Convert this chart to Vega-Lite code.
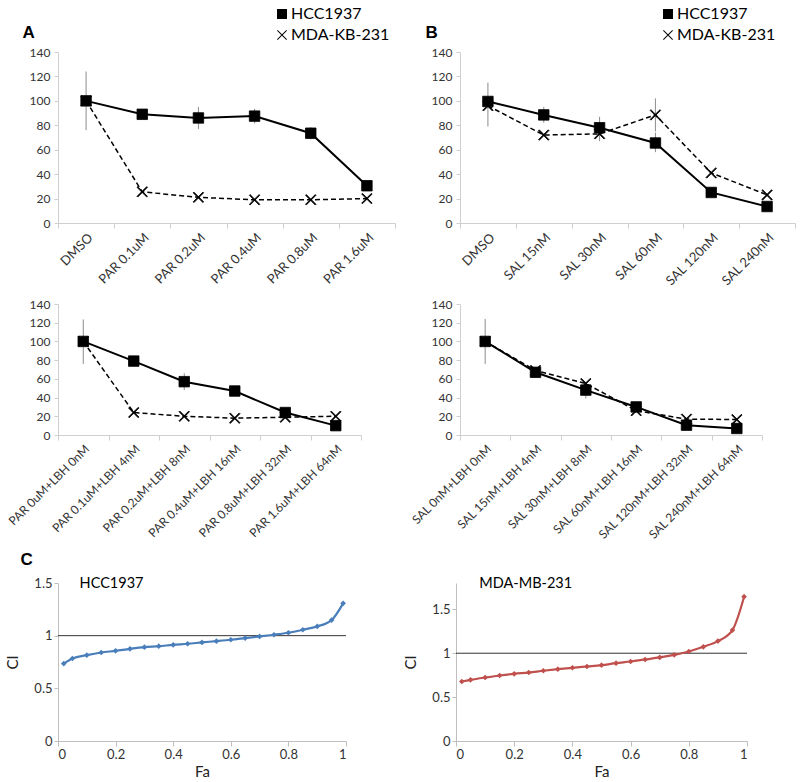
{
  "$schema": "https://vega.github.io/schema/vega-lite/v6.json",
  "autosize": {"type": "pad"},
  "padding": {"left": 5, "top": 6, "right": 0, "bottom": 0},
  "background": "white",
  "config": {
    "font": "Lato",
    "view": {"stroke": null},
    "axis": {"grid": false, "labelColor": "#333333", "labelFont": "Lato", "titleFont": "Lato", "titleFontWeight": "normal", "titleColor": "#222222", "domainColor": "#cfcfcf", "tickColor": "#cfcfcf"}
  },
  "datasets": {
    "A": [
      {"i": 0, "cond": "DMSO", "line": "HCC1937", "v": 100, "lo": 76, "hi": 124},
      {"i": 1, "cond": "PAR 0.1uM", "line": "HCC1937", "v": 89},
      {"i": 2, "cond": "PAR 0.2uM", "line": "HCC1937", "v": 86, "lo": 77, "hi": 95},
      {"i": 3, "cond": "PAR 0.4uM", "line": "HCC1937", "v": 87.5, "lo": 81.5, "hi": 93.5},
      {"i": 4, "cond": "PAR 0.8uM", "line": "HCC1937", "v": 73.5, "lo": 68.5, "hi": 78.5},
      {"i": 5, "cond": "PAR 1.6uM", "line": "HCC1937", "v": 30.5},
      {"i": 0, "cond": "DMSO", "line": "MDA-KB-231", "v": 100},
      {"i": 1, "cond": "PAR 0.1uM", "line": "MDA-KB-231", "v": 25.5},
      {"i": 2, "cond": "PAR 0.2uM", "line": "MDA-KB-231", "v": 21},
      {"i": 3, "cond": "PAR 0.4uM", "line": "MDA-KB-231", "v": 19},
      {"i": 4, "cond": "PAR 0.8uM", "line": "MDA-KB-231", "v": 19},
      {"i": 5, "cond": "PAR 1.6uM", "line": "MDA-KB-231", "v": 20}
    ],
    "B": [
      {"i": 0, "cond": "DMSO", "line": "HCC1937", "v": 99.5, "lo": 79, "hi": 115},
      {"i": 1, "cond": "SAL 15nM", "line": "HCC1937", "v": 88.5, "lo": 82, "hi": 95},
      {"i": 2, "cond": "SAL 30nM", "line": "HCC1937", "v": 78, "lo": 67, "hi": 87},
      {"i": 3, "cond": "SAL 60nM", "line": "HCC1937", "v": 65.5, "lo": 58, "hi": 74},
      {"i": 4, "cond": "SAL 120nM", "line": "HCC1937", "v": 25},
      {"i": 5, "cond": "SAL 240nM", "line": "HCC1937", "v": 13.5},
      {"i": 0, "cond": "DMSO", "line": "MDA-KB-231", "v": 96},
      {"i": 1, "cond": "SAL 15nM", "line": "MDA-KB-231", "v": 72},
      {"i": 2, "cond": "SAL 30nM", "line": "MDA-KB-231", "v": 73},
      {"i": 3, "cond": "SAL 60nM", "line": "MDA-KB-231", "v": 88.5, "lo": 75, "hi": 102},
      {"i": 4, "cond": "SAL 120nM", "line": "MDA-KB-231", "v": 41},
      {"i": 5, "cond": "SAL 240nM", "line": "MDA-KB-231", "v": 23}
    ],
    "C": [
      {"i": 0, "cond": "PAR 0uM+LBH 0nM", "line": "HCC1937", "v": 100, "lo": 76, "hi": 123.5},
      {"i": 1, "cond": "PAR 0.1uM+LBH 4nM", "line": "HCC1937", "v": 79},
      {"i": 2, "cond": "PAR 0.2uM+LBH 8nM", "line": "HCC1937", "v": 57, "lo": 48, "hi": 66},
      {"i": 3, "cond": "PAR 0.4uM+LBH 16nM", "line": "HCC1937", "v": 47, "lo": 42, "hi": 52},
      {"i": 4, "cond": "PAR 0.8uM+LBH 32nM", "line": "HCC1937", "v": 24},
      {"i": 5, "cond": "PAR 1.6uM+LBH 64nM", "line": "HCC1937", "v": 10},
      {"i": 0, "cond": "PAR 0uM+LBH 0nM", "line": "MDA-KB-231", "v": 100},
      {"i": 1, "cond": "PAR 0.1uM+LBH 4nM", "line": "MDA-KB-231", "v": 24},
      {"i": 2, "cond": "PAR 0.2uM+LBH 8nM", "line": "MDA-KB-231", "v": 20},
      {"i": 3, "cond": "PAR 0.4uM+LBH 16nM", "line": "MDA-KB-231", "v": 18},
      {"i": 4, "cond": "PAR 0.8uM+LBH 32nM", "line": "MDA-KB-231", "v": 19},
      {"i": 5, "cond": "PAR 1.6uM+LBH 64nM", "line": "MDA-KB-231", "v": 20}
    ],
    "D": [
      {"i": 0, "cond": "SAL 0nM+LBH 0nM", "line": "HCC1937", "v": 100, "lo": 76, "hi": 124},
      {"i": 1, "cond": "SAL 15nM+LBH 4nM", "line": "HCC1937", "v": 67},
      {"i": 2, "cond": "SAL 30nM+LBH 8nM", "line": "HCC1937", "v": 48, "lo": 39, "hi": 57},
      {"i": 3, "cond": "SAL 60nM+LBH 16nM", "line": "HCC1937", "v": 30},
      {"i": 4, "cond": "SAL 120nM+LBH 32nM", "line": "HCC1937", "v": 10.5},
      {"i": 5, "cond": "SAL 240nM+LBH 64nM", "line": "HCC1937", "v": 7},
      {"i": 0, "cond": "SAL 0nM+LBH 0nM", "line": "MDA-KB-231", "v": 100},
      {"i": 1, "cond": "SAL 15nM+LBH 4nM", "line": "MDA-KB-231", "v": 69},
      {"i": 2, "cond": "SAL 30nM+LBH 8nM", "line": "MDA-KB-231", "v": 55},
      {"i": 3, "cond": "SAL 60nM+LBH 16nM", "line": "MDA-KB-231", "v": 26},
      {"i": 4, "cond": "SAL 120nM+LBH 32nM", "line": "MDA-KB-231", "v": 17},
      {"i": 5, "cond": "SAL 240nM+LBH 64nM", "line": "MDA-KB-231", "v": 16.5}
    ],
    "ciH": [
      {"Fa": 0.02, "CI": 0.735}, {"Fa": 0.05, "CI": 0.783}, {"Fa": 0.1, "CI": 0.815}, {"Fa": 0.15, "CI": 0.84},
      {"Fa": 0.2, "CI": 0.856}, {"Fa": 0.25, "CI": 0.875}, {"Fa": 0.3, "CI": 0.891}, {"Fa": 0.35, "CI": 0.9},
      {"Fa": 0.4, "CI": 0.913}, {"Fa": 0.45, "CI": 0.923}, {"Fa": 0.5, "CI": 0.936}, {"Fa": 0.55, "CI": 0.948},
      {"Fa": 0.6, "CI": 0.961}, {"Fa": 0.65, "CI": 0.977}, {"Fa": 0.7, "CI": 0.993}, {"Fa": 0.75, "CI": 1.009},
      {"Fa": 0.8, "CI": 1.028}, {"Fa": 0.85, "CI": 1.056}, {"Fa": 0.9, "CI": 1.088}, {"Fa": 0.95, "CI": 1.148},
      {"Fa": 0.99, "CI": 1.307}
    ],
    "ciM": [
      {"Fa": 0.02, "CI": 0.678}, {"Fa": 0.05, "CI": 0.697}, {"Fa": 0.1, "CI": 0.723}, {"Fa": 0.15, "CI": 0.746},
      {"Fa": 0.2, "CI": 0.765}, {"Fa": 0.25, "CI": 0.78}, {"Fa": 0.3, "CI": 0.8}, {"Fa": 0.35, "CI": 0.818},
      {"Fa": 0.4, "CI": 0.834}, {"Fa": 0.45, "CI": 0.849}, {"Fa": 0.5, "CI": 0.864}, {"Fa": 0.55, "CI": 0.887},
      {"Fa": 0.6, "CI": 0.906}, {"Fa": 0.65, "CI": 0.929}, {"Fa": 0.7, "CI": 0.952}, {"Fa": 0.75, "CI": 0.982},
      {"Fa": 0.8, "CI": 1.02}, {"Fa": 0.85, "CI": 1.073}, {"Fa": 0.9, "CI": 1.138}, {"Fa": 0.95, "CI": 1.264},
      {"Fa": 0.99, "CI": 1.644}
    ]
  },
  "spacing": 9,
  "resolve": {"scale": {"shape": "independent"}},
  "vconcat": [
    {
      "spacing": 10,
      "resolve": {"scale": {"shape": "independent"}},
      "vconcat": [
        {
          "bounds": "flush",
          "spacing": 65,
          "resolve": {"scale": {"shape": "independent"}},
          "hconcat": [
            {
              "width": 337, "height": 171,
              "data": {"name": "A"},
              "encoding": {
                "x": {"field": "cond", "type": "nominal", "bandPosition": 0.5,
                  "sort": ["DMSO", "PAR 0.1uM", "PAR 0.2uM", "PAR 0.4uM", "PAR 0.8uM", "PAR 1.6uM"],
                  "scale": {"type": "band", "paddingInner": 0, "paddingOuter": 0},
                  "axis": {"title": null, "labelAngle": -45, "labelFontSize": 13, "tickBand": "extent", "tickSize": 5, "labelPadding": 3, "labelOverlap": false}},
                "y": {"field": "v", "type": "quantitative", "scale": {"domain": [0, 140], "nice": false},
                  "axis": {"title": "A", "titleAngle": 0, "titleX": -36, "titleY": -20, "titleAlign": "left", "titleBaseline": "middle", "titleFont": "Arial", "titleFontWeight": "bold", "titleFontSize": 17, "titleColor": "black",
                    "values": [0, 20, 40, 60, 80, 100, 120, 140], "labelFontSize": 12, "tickSize": 4, "labelPadding": 4}}
              },
              "layer": [
                {"transform": [{"filter": "isValid(datum.lo)"}], "mark": {"type": "rule", "color": "#8c8c8c", "strokeWidth": 1}, "encoding": {"y": {"field": "lo", "type": "quantitative"}, "y2": {"field": "hi"}}},
                {"transform": [{"filter": "datum.line === 'MDA-KB-231'"}], "mark": {"type": "line", "color": "black", "strokeWidth": 1.5, "strokeDash": [5, 3]}, "encoding": {"order": {"field": "i"}}},
                {"transform": [{"filter": "datum.line === 'HCC1937'"}], "mark": {"type": "line", "color": "black", "strokeWidth": 2}, "encoding": {"order": {"field": "i"}}},
                {"mark": {"type": "point", "fill": "black", "stroke": "black", "strokeWidth": 0.8, "opacity": 1, "size": 110},
                  "encoding": {
                    "shape": {"field": "line", "type": "nominal", "scale": {"domain": ["HCC1937", "MDA-KB-231"], "range": ["square", "M-1,-0.86L-0.86,-1L1,0.86L0.86,1Z M0.86,-1L1,-0.86L-0.86,1L-1,0.86Z"]},
                      "legend": {"orient": "none", "legendX": 216, "legendY": -46, "title": null, "labelFontSize": 16, "labelFont": "Lato", "labelColor": "black", "symbolSize": 100, "symbolFillColor": "black", "symbolStrokeColor": "black", "symbolStrokeWidth": 0.8, "rowPadding": 5, "labelOffset": 1}}
                  }}
              ]
            },
            {
              "width": 335, "height": 171,
              "data": {"name": "B"},
              "encoding": {
                "x": {"field": "cond", "type": "nominal", "bandPosition": 0.5,
                  "sort": ["DMSO", "SAL 15nM", "SAL 30nM", "SAL 60nM", "SAL 120nM", "SAL 240nM"],
                  "scale": {"type": "band", "paddingInner": 0, "paddingOuter": 0},
                  "axis": {"title": null, "labelAngle": -45, "labelFontSize": 13, "tickBand": "extent", "tickSize": 5, "labelPadding": 3, "labelOverlap": false}},
                "y": {"field": "v", "type": "quantitative", "scale": {"domain": [0, 140], "nice": false},
                  "axis": {"title": "B", "titleAngle": 0, "titleX": -35, "titleY": -20, "titleAlign": "left", "titleBaseline": "middle", "titleFont": "Arial", "titleFontWeight": "bold", "titleFontSize": 17, "titleColor": "black",
                    "values": [0, 20, 40, 60, 80, 100, 120, 140], "labelFontSize": 12, "tickSize": 4, "labelPadding": 4}}
              },
              "layer": [
                {"transform": [{"filter": "isValid(datum.lo)"}], "mark": {"type": "rule", "color": "#8c8c8c", "strokeWidth": 1}, "encoding": {"y": {"field": "lo", "type": "quantitative"}, "y2": {"field": "hi"}}},
                {"transform": [{"filter": "datum.line === 'MDA-KB-231'"}], "mark": {"type": "line", "color": "black", "strokeWidth": 1.5, "strokeDash": [5, 3]}, "encoding": {"order": {"field": "i"}}},
                {"transform": [{"filter": "datum.line === 'HCC1937'"}], "mark": {"type": "line", "color": "black", "strokeWidth": 2}, "encoding": {"order": {"field": "i"}}},
                {"mark": {"type": "point", "fill": "black", "stroke": "black", "strokeWidth": 0.8, "opacity": 1, "size": 110},
                  "encoding": {
                    "shape": {"field": "line", "type": "nominal", "scale": {"domain": ["HCC1937", "MDA-KB-231"], "range": ["square", "M-1,-0.86L-0.86,-1L1,0.86L0.86,1Z M0.86,-1L1,-0.86L-0.86,1L-1,0.86Z"]},
                      "legend": {"orient": "none", "legendX": 200, "legendY": -46, "title": null, "labelFontSize": 16, "labelFont": "Lato", "labelColor": "black", "symbolSize": 100, "symbolFillColor": "black", "symbolStrokeColor": "black", "symbolStrokeWidth": 0.8, "rowPadding": 5, "labelOffset": 1}}
                  }}
              ]
            }
          ]
        },
        {
          "bounds": "flush",
          "spacing": 99,
          "resolve": {"scale": {"shape": "independent"}},
          "hconcat": [
            {
              "width": 303, "height": 131,
              "data": {"name": "C"},
              "encoding": {
                "x": {"field": "cond", "type": "nominal", "bandPosition": 0.5,
                  "sort": ["PAR 0uM+LBH 0nM", "PAR 0.1uM+LBH 4nM", "PAR 0.2uM+LBH 8nM", "PAR 0.4uM+LBH 16nM", "PAR 0.8uM+LBH 32nM", "PAR 1.6uM+LBH 64nM"],
                  "scale": {"type": "band", "paddingInner": 0, "paddingOuter": 0},
                  "axis": {"title": null, "labelAngle": -45, "labelFontSize": 12, "tickBand": "extent", "tickSize": 5, "labelPadding": 3, "labelOverlap": false}},
                "y": {"field": "v", "type": "quantitative", "scale": {"domain": [0, 140], "nice": false},
                  "axis": {"title": null, "values": [0, 20, 40, 60, 80, 100, 120, 140], "labelFontSize": 12, "tickSize": 4, "labelPadding": 4}}
              },
              "layer": [
                {"transform": [{"filter": "isValid(datum.lo)"}], "mark": {"type": "rule", "color": "#8c8c8c", "strokeWidth": 1}, "encoding": {"y": {"field": "lo", "type": "quantitative"}, "y2": {"field": "hi"}}},
                {"transform": [{"filter": "datum.line === 'MDA-KB-231'"}], "mark": {"type": "line", "color": "black", "strokeWidth": 1.5, "strokeDash": [5, 3]}, "encoding": {"order": {"field": "i"}}},
                {"transform": [{"filter": "datum.line === 'HCC1937'"}], "mark": {"type": "line", "color": "black", "strokeWidth": 2}, "encoding": {"order": {"field": "i"}}},
                {"mark": {"type": "point", "fill": "black", "stroke": "black", "strokeWidth": 0.8, "opacity": 1, "size": 110},
                  "encoding": {
                    "shape": {"field": "line", "type": "nominal", "scale": {"domain": ["HCC1937", "MDA-KB-231"], "range": ["square", "M-1,-0.86L-0.86,-1L1,0.86L0.86,1Z M0.86,-1L1,-0.86L-0.86,1L-1,0.86Z"]}, "legend": null}
                  }}
              ]
            },
            {
              "width": 302, "height": 131,
              "data": {"name": "D"},
              "encoding": {
                "x": {"field": "cond", "type": "nominal", "bandPosition": 0.5,
                  "sort": ["SAL 0nM+LBH 0nM", "SAL 15nM+LBH 4nM", "SAL 30nM+LBH 8nM", "SAL 60nM+LBH 16nM", "SAL 120nM+LBH 32nM", "SAL 240nM+LBH 64nM"],
                  "scale": {"type": "band", "paddingInner": 0, "paddingOuter": 0},
                  "axis": {"title": null, "labelAngle": -45, "labelFontSize": 12, "tickBand": "extent", "tickSize": 5, "labelPadding": 3, "labelOverlap": false}},
                "y": {"field": "v", "type": "quantitative", "scale": {"domain": [0, 140], "nice": false},
                  "axis": {"title": null, "values": [0, 20, 40, 60, 80, 100, 120, 140], "labelFontSize": 12, "tickSize": 4, "labelPadding": 4}}
              },
              "layer": [
                {"transform": [{"filter": "isValid(datum.lo)"}], "mark": {"type": "rule", "color": "#8c8c8c", "strokeWidth": 1}, "encoding": {"y": {"field": "lo", "type": "quantitative"}, "y2": {"field": "hi"}}},
                {"transform": [{"filter": "datum.line === 'MDA-KB-231'"}], "mark": {"type": "line", "color": "black", "strokeWidth": 1.5, "strokeDash": [5, 3]}, "encoding": {"order": {"field": "i"}}},
                {"transform": [{"filter": "datum.line === 'HCC1937'"}], "mark": {"type": "line", "color": "black", "strokeWidth": 2}, "encoding": {"order": {"field": "i"}}},
                {"mark": {"type": "point", "fill": "black", "stroke": "black", "strokeWidth": 0.8, "opacity": 1, "size": 110},
                  "encoding": {
                    "shape": {"field": "line", "type": "nominal", "scale": {"domain": ["HCC1937", "MDA-KB-231"], "range": ["square", "M-1,-0.86L-0.86,-1L1,0.86L0.86,1Z M0.86,-1L1,-0.86L-0.86,1L-1,0.86Z"]}, "legend": null}
                  }}
              ]
            }
          ]
        }
      ]
    },
    {
      "bounds": "flush",
      "spacing": 110,
      "hconcat": [
        {
          "width": 288, "height": 158,
          "layer": [
            {"data": {"values": [{"ref": 1}]}, "mark": {"type": "rule", "color": "#333333", "strokeWidth": 1}, "encoding": {"y": {"field": "ref", "type": "quantitative"}}},
            {"data": {"name": "ciH"}, "mark": {"type": "line", "color": "#4a7ebb", "strokeWidth": 2.2, "interpolate": "monotone"},
              "encoding": {
                "x": {"field": "Fa", "type": "quantitative", "scale": {"domain": [0, 1], "nice": false}, "axis": {"title": "Fa", "values": [0, 0.2, 0.4, 0.6, 0.8, 1], "format": "~g", "labelFontSize": 13, "titleFontSize": 15, "tickSize": 5, "titlePadding": 3, "domainColor": "#bfbfbf", "tickColor": "#bfbfbf"}},
                "y": {"field": "CI", "type": "quantitative", "scale": {"domain": [0, 1.5], "nice": false}, "axis": {"title": "CI", "values": [0, 0.5, 1, 1.5], "format": "~g", "labelFontSize": 13, "titleFontSize": 15, "tickSize": 4, "titlePadding": 13, "domainColor": "#bfbfbf", "tickColor": "#bfbfbf"}}
              }},
            {"data": {"name": "ciH"}, "mark": {"type": "point", "shape": "diamond", "filled": true, "color": "#4a7ebb", "size": 32, "opacity": 1},
              "encoding": {"x": {"field": "Fa", "type": "quantitative"}, "y": {"field": "CI", "type": "quantitative"}}},
            {"data": {"values": [{"Fa": 0.075, "CI": 1.49, "label": "HCC1937"}]}, "mark": {"type": "text", "align": "left", "baseline": "middle", "fontSize": 14.5, "font": "Lato", "color": "black"},
              "encoding": {"x": {"field": "Fa", "type": "quantitative"}, "y": {"field": "CI", "type": "quantitative"}, "text": {"field": "label"}}},
            {"data": {"values": [{"Fa": -0.13, "CI": 1.72, "label": "C"}]}, "mark": {"type": "text", "align": "left", "baseline": "middle", "fontSize": 17, "font": "Arial", "fontWeight": "bold", "color": "black"},
              "encoding": {"x": {"field": "Fa", "type": "quantitative"}, "y": {"field": "CI", "type": "quantitative"}, "text": {"field": "label"}}}
          ]
        },
        {
          "width": 291, "height": 158,
          "layer": [
            {"data": {"values": [{"ref": 1}]}, "mark": {"type": "rule", "color": "#333333", "strokeWidth": 1}, "encoding": {"y": {"field": "ref", "type": "quantitative"}}},
            {"data": {"name": "ciM"}, "mark": {"type": "line", "color": "#c0504d", "strokeWidth": 2.2, "interpolate": "monotone"},
              "encoding": {
                "x": {"field": "Fa", "type": "quantitative", "scale": {"domain": [0, 1], "nice": false}, "axis": {"title": "Fa", "values": [0, 0.2, 0.4, 0.6, 0.8, 1], "format": "~g", "labelFontSize": 13, "titleFontSize": 15, "tickSize": 5, "titlePadding": 3, "domainColor": "#bfbfbf", "tickColor": "#bfbfbf"}},
                "y": {"field": "CI", "type": "quantitative", "scale": {"domain": [0, 1.8], "nice": false}, "axis": {"title": "CI", "values": [0, 0.5, 1, 1.5], "format": "~g", "labelFontSize": 13, "titleFontSize": 15, "tickSize": 4, "titlePadding": 13, "domainColor": "#bfbfbf", "tickColor": "#bfbfbf"}}
              }},
            {"data": {"name": "ciM"}, "mark": {"type": "point", "shape": "diamond", "filled": true, "color": "#c0504d", "size": 32, "opacity": 1},
              "encoding": {"x": {"field": "Fa", "type": "quantitative"}, "y": {"field": "CI", "type": "quantitative"}}},
            {"data": {"values": [{"Fa": 0.08, "CI": 1.79, "label": "MDA-MB-231"}]}, "mark": {"type": "text", "align": "left", "baseline": "middle", "fontSize": 14.5, "font": "Lato", "color": "black"},
              "encoding": {"x": {"field": "Fa", "type": "quantitative"}, "y": {"field": "CI", "type": "quantitative"}, "text": {"field": "label"}}}
          ]
        }
      ]
    }
  ]
}
